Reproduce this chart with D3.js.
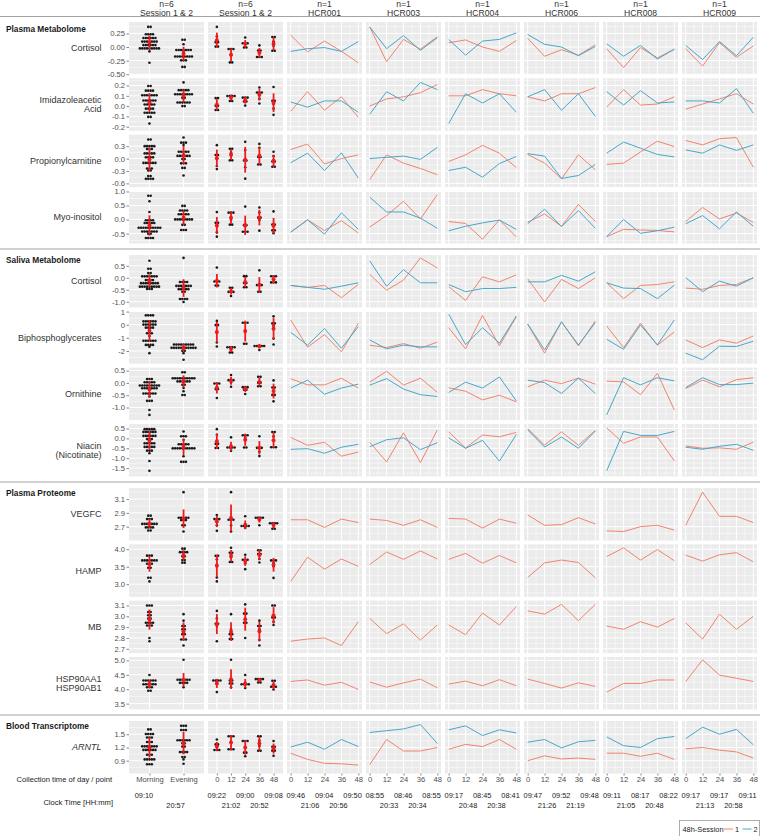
<!DOCTYPE html>
<html>
<head>
<meta charset="utf-8">
<script src="https://cdn.jsdelivr.net/npm/d3@7"></script>
<style>
body { margin: 0; background: #fff; }
svg { display: block; font-family: "Liberation Sans", Arial, sans-serif; }
</style>
</head>
<body>
<div id="chart"></div>
<script>
var width = 760;
var height = 836;

var panelLeft = 129;
var panelWidth = 75;
var panelStep = 79;
var panelHeight = 52.5;
var rowStep = 56.3;
var firstRowTop = 22;
var headerLineY = 16.5;

var dotRadius = 1.3;
var dotBin = 3.1;
var dotStep = 2.4;

var timePoints = [0, 12, 24, 36, 48];
var dayParts = ['Morning', 'Evening'];
var subjects = ['HCR001', 'HCR003', 'HCR004', 'HCR006', 'HCR008', 'HCR009'];
var sessions = ['1', '2'];
var sessionColors = ['#F2836F', '#45A8CB'];
var sections = ['Plasma Metabolome', 'Saliva Metabolome', 'Plasma Proteome', 'Blood Transcriptome'];

var rowLabels = [['Cortisol'], ['Imidazoleacetic', 'Acid'], ['Propionylcarnitine'], ['Myo-inositol'],
    ['Cortisol'], ['Biphosphoglycerates'], ['Ornithine'], ['Niacin', '(Nicotinate)'],
    ['VEGFC'], ['HAMP'], ['MB'], ['HSP90AA1', 'HSP90AB1'], ['ARNTL']];
var rowSection = [0, 0, 0, 0, 1, 1, 1, 1, 2, 2, 2, 2, 3];
var rowItalic = [false, false, false, false, false, false, false, false, false, false, false, false, true];
var rowTicks = [
    [-0.5, -0.25, 0, 0.25], [-0.2, -0.1, 0, 0.1, 0.2], [-0.6, -0.3, 0, 0.3], [-0.5, 0, 0.5, 1],
    [-1, -0.5, 0, 0.5], [-2, -1, 0, 1], [-1, -0.5, 0, 0.5], [-1.5, -1, -0.5, 0, 0.5],
    [2.7, 2.9, 3.1], [3, 3.5, 4], [2.7, 2.8, 2.9, 3, 3.1], [3.5, 4, 4.5, 5], [0.9, 1.2, 1.5]];
var rowDigits = [2, 1, 1, 1, 1, 0, 1, 1, 1, 1, 1, 1, 1];
var rowDomains = [
    [-0.505, 0.46], [-0.24, 0.27], [-0.69, 0.58], [-0.85, 1.02],
    [-1.24, 0.95], [-2.98, 1.02], [-1.51, 0.62], [-1.92, 0.73],
    [2.5, 3.26], [2.64, 4.14], [2.66, 3.145], [3.3, 5.12], [0.61, 1.8]];

// one row per subject, values at 0, 12, 24, 36, 48 h
var plasmaCortisolS1 = [[0.22, -0.09, 0.11, -0.08, -0.29], [0.37, -0.27, 0.14, -0.04, 0.19], [0.08, 0.13, 0.00, -0.08, 0.12],
    [0.16, -0.17, -0.05, -0.15, 0.04], [-0.03, -0.38, -0.01, -0.20, -0.04], [-0.03, -0.35, 0.08, -0.19, 0.02]];
var plasmaCortisolS2 = [[-0.08, -0.03, -0.01, -0.08, 0.10], [0.37, -0.03, 0.21, -0.06, 0.17], [0.14, -0.15, 0.11, 0.14, 0.26],
    [0.23, 0.05, 0.00, -0.16, 0.01], [0.06, -0.17, 0.03, -0.22, -0.04], [0.03, -0.23, 0.10, -0.16, 0.18]];
var imidazoleS1 = [[-0.05, 0.14, -0.04, 0.09, -0.11], [0.00, 0.07, 0.09, 0.13, 0.21], [0.10, 0.10, 0.16, 0.12, 0.10],
    [0.09, 0.05, 0.12, 0.12, 0.18], [-0.01, 0.16, 0.01, 0.02, 0.09], [-0.03, 0.02, 0.07, 0.12, 0.02]];
var imidazoleS2 = [[0.04, -0.01, 0.05, 0.05, -0.06], [-0.08, 0.14, 0.05, 0.23, 0.16], [-0.17, 0.12, 0.03, 0.12, -0.06],
    [0.09, 0.16, -0.04, 0.12, -0.10], [0.14, 0.01, 0.15, 0.03, 0.04], [0.05, 0.05, 0.03, 0.17, -0.07]];
var propionylS1 = [[0.22, 0.35, -0.13, 0.00, 0.09], [-0.51, 0.09, -0.11, -0.24, -0.39], [-0.07, 0.09, 0.32, 0.13, -0.22],
    [0.10, -0.11, -0.49, 0.09, -0.27], [-0.14, -0.11, 0.16, 0.42, 0.29], [0.44, 0.33, 0.48, 0.51, -0.21]];
var propionylS2 = [[-0.10, 0.13, -0.29, 0.14, -0.47], [0.00, 0.03, 0.06, -0.02, 0.27], [-0.29, -0.21, -0.45, -0.12, 0.05],
    [0.12, 0.06, -0.48, -0.41, -0.14], [0.13, 0.40, 0.25, 0.10, 0.04], [0.21, 0.13, 0.33, 0.20, 0.33]];
var myoInositolS1 = [[-0.45, -0.01, -0.39, -0.04, -0.48], [-0.27, 0.14, 0.65, 0.02, 0.89], [-0.07, -0.14, -0.70, -0.01, -0.62],
    [-0.10, 0.20, -0.24, 0.54, -0.07], [-0.61, -0.35, -0.37, -0.39, -0.44], [-0.07, 0.43, 0.02, 0.23, -0.10]];
var myoInositolS2 = [[-0.45, -0.01, -0.52, 0.24, -0.35], [0.80, 0.27, 0.27, 0.05, -0.31], [-0.40, -0.24, -0.12, -0.02, -0.35],
    [-0.15, 0.37, -0.25, 0.32, -0.31], [-0.61, 0.00, -0.49, -0.40, -0.27], [-0.15, 0.14, -0.33, 0.27, -0.24]];
var salivaCortisolS1 = [[-0.32, -0.40, -0.32, -0.83, -0.28], [0.14, -0.52, -0.10, 0.83, 0.41], [-0.37, -0.94, 0.04, -0.17, 0.12],
    [-0.04, -1.01, -0.07, -0.45, 0.00], [-0.21, -0.87, -0.32, -0.28, -0.17], [-0.43, -0.48, -0.32, -0.28, 0.00]];
var salivaCortisolS2 = [[-0.32, -0.40, -0.48, -0.35, -0.21], [0.71, -0.35, 0.34, -0.21, -0.21], [-0.28, -0.58, -0.45, -0.45, -0.40],
    [-0.17, -0.17, 0.10, -0.14, 0.25], [-0.21, -0.43, -0.45, -0.87, -0.31], [0.01, -0.58, -0.14, -0.35, 0.00]];
var biphosS1 = [[0.36, -1.71, -0.76, -2.07, 0.11], [-1.56, -1.74, -1.44, -1.79, -1.33], [-0.23, -1.84, 0.71, -1.61, 0.61],
    [0.05, -2.17, 0.23, -1.61, 0.28], [-0.10, -1.74, 0.11, -1.56, -0.55], [-1.16, -1.74, -1.16, -1.41, -0.86]];
var biphosS2 = [[-0.58, -1.56, -0.30, -1.79, -0.15], [-1.16, -1.84, -1.56, -1.69, -1.69], [0.81, -1.52, -0.23, -1.41, 0.66],
    [0.05, -1.92, 0.20, -1.54, 0.15], [-1.11, -1.87, -0.02, -1.54, 0.36], [-2.17, -2.67, -1.64, -1.66, -1.26]];
var ornithineS1 = [[0.17, -0.08, -0.08, 0.19, -0.21], [0.03, 0.47, -0.09, 0.19, -0.38], [-0.20, -0.34, -0.69, -0.50, -0.77],
    [-0.16, 0.11, -0.03, 0.19, -0.05], [0.07, 0.04, -0.48, 0.39, -1.10], [-0.23, 0.11, -0.16, 0.13, 0.21]];
var ornithineS2 = [[-0.21, 0.11, -0.46, -0.21, -0.05], [-0.09, 0.17, -0.25, -0.48, -0.55], [-0.39, 0.03, -0.21, 0.24, -0.73],
    [0.11, 0.01, -0.43, 0.19, -0.43], [-1.30, 0.21, -0.08, 0.21, 0.08], [-0.19, 0.21, -0.07, -0.07, -0.01]];
var niacinS1 = [[0.05, -0.35, -0.20, -0.90, -0.69], [-0.19, -1.19, 0.28, -1.22, 0.42], [0.33, -0.49, 0.17, 0.08, 0.30],
    [0.50, -0.34, 0.33, -0.35, 0.40], [0.53, -0.25, 0.07, 0.07, -1.14], [-0.38, -0.50, -0.48, -0.55, -0.19]];
var niacinS2 = [[-0.55, -0.52, -0.75, -0.45, -0.30], [-0.42, -0.07, 0.03, -0.57, -0.22], [0.03, -0.50, -0.10, -1.15, 0.20],
    [0.43, -0.44, 0.07, -0.50, 0.37], [-1.64, 0.35, 0.15, 0.15, 0.35], [-0.45, -0.55, -0.40, -0.30, -0.60]];
var vegfcS1 = [[2.80, 2.80, 2.69, 2.81, 2.76], [2.81, 2.79, 2.72, 2.80, 2.69], [2.82, 2.81, 2.68, 2.81, 2.75],
    [2.87, 2.72, 2.73, 2.83, 2.74], [2.64, 2.63, 2.70, 2.72, 2.65], [2.72, 3.20, 2.85, 2.85, 2.76]];
var hampS1 = [[3.08, 3.77, 3.43, 3.72, 3.51], [3.56, 3.92, 3.71, 3.95, 3.72], [3.71, 3.88, 3.60, 3.82, 3.61],
    [3.19, 3.61, 3.69, 3.62, 3.18], [3.79, 4.04, 3.69, 3.99, 3.67], [3.83, 3.66, 3.84, 3.90, 3.64]];
var mbS1 = [[2.77, 2.79, 2.80, 2.73, 2.95], [2.98, 2.84, 2.93, 2.78, 2.92], [2.92, 2.83, 3.03, 2.92, 3.09],
    [3.05, 3.02, 3.11, 2.96, 3.11], [2.91, 2.88, 2.95, 2.90, 2.98], [2.94, 2.79, 3.02, 2.88, 3.00]];
var hsp90S1 = [[4.27, 4.32, 4.14, 4.24, 3.99], [4.25, 4.07, 4.22, 4.35, 4.05], [4.18, 4.28, 4.12, 4.33, 4.12],
    [4.35, 4.20, 4.04, 4.22, 4.10], [3.90, 4.20, 4.20, 4.32, 4.32], [4.26, 5.02, 4.49, 4.38, 4.27]];
var arntlS1 = [[1.07, 0.93, 0.84, 0.83, 0.80], [0.81, 1.38, 1.12, 1.12, 1.20], [1.16, 1.27, 1.22, 1.38, 1.16],
    [0.90, 1.01, 0.94, 0.96, 0.93], [1.07, 1.07, 1.00, 1.07, 0.93], [1.17, 1.20, 1.14, 1.10, 0.96]];
var arntlS2 = [[1.21, 1.32, 1.16, 1.38, 1.22], [1.54, 1.58, 1.62, 1.72, 1.29], [1.60, 1.69, 1.47, 1.60, 1.53],
    [1.32, 1.38, 1.19, 1.33, 1.36], [1.44, 1.24, 1.20, 1.40, 1.45], [1.40, 1.66, 1.50, 1.61, 1.26]];

var session1Data = [plasmaCortisolS1, imidazoleS1, propionylS1, myoInositolS1, salivaCortisolS1, biphosS1,
    ornithineS1, niacinS1, vegfcS1, hampS1, mbS1, hsp90S1, arntlS1];
var session2Data = [plasmaCortisolS2, imidazoleS2, propionylS2, myoInositolS2, salivaCortisolS2, biphosS2,
    ornithineS2, niacinS2, null, null, null, null, arntlS2];

var headerTop = ['n=6', 'n=6', 'n=1', 'n=1', 'n=1', 'n=1', 'n=1', 'n=1'];
var headerBottom = ['Session 1 & 2', 'Session 1 & 2'].concat(subjects);

var clockDayParts = ['09:10', '20:57'];
var clockTimes = [
    ['09:22', '21:02', '09:00', '20:52', '09:08'],
    ['09:46', '21:06', '09:04', '20:56', '09:50'],
    ['08:55', '20:33', '08:46', '20:34', '08:55'],
    ['09:17', '20:48', '08:45', '20:38', '08:41'],
    ['09:47', '21:26', '09:52', '21:19', '09:48'],
    ['09:11', '21:05', '08:17', '20:48', '08:22'],
    ['09:17', '21:13', '09:17', '20:58', '09:11']];


var locale = d3.formatLocale({decimal: '.', thousands: ',', grouping: [3], currency: ['', ''], minus: '-'});

var xDay = d3.scalePoint().domain(dayParts).range([0, panelWidth]).padding(0.6);
var xSummary = d3.scaleLinear().domain([-7.5, 56]).range([0, panelWidth]);
var xSubject = d3.scaleLinear().domain([-2.6, 50.6]).range([0, panelWidth]);

function colX(i) {
    return panelLeft + i * panelStep;
}

// Layout of rows and section separators
var rowTops = [];
var separators = [];
(function () {
    var y = firstRowTop;
    rowSection.forEach(function (s, i) {
        if (i > 0 && s !== rowSection[i - 1]) {
            var sep = rowTops[i - 1] + panelHeight + 5.6;
            separators.push(sep);
            y = sep + 6;
        }
        rowTops.push(y);
        y += rowStep;
    });
}());

var svg = d3.select('#chart').append('svg')
    .attr('width', width)
    .attr('height', height);

svg.append('rect').attr('width', width).attr('height', height).attr('fill', '#fff');

function minorBreaks(ticks, domain) {
    var step = ticks[1] - ticks[0];
    var out = [];
    for (var v = ticks[0] - step / 2; v <= domain[1]; v += step) {
        if (v >= domain[0]) {
            out.push(v);
        }
    }
    return out;
}

function drawPanelBackground(g, yScale, ticks, domain, xMajor, xMinor) {
    g.append('rect')
        .attr('width', panelWidth)
        .attr('height', panelHeight)
        .attr('fill', '#EBEBEB');

    g.selectAll('.hminor').data(minorBreaks(ticks, domain)).enter().append('line')
        .attr('x1', 0).attr('x2', panelWidth)
        .attr('y1', yScale).attr('y2', yScale)
        .attr('stroke', '#fff').attr('stroke-width', 0.5);
    g.selectAll('.vminor').data(xMinor).enter().append('line')
        .attr('x1', function (d) { return d; }).attr('x2', function (d) { return d; })
        .attr('y1', 0).attr('y2', panelHeight)
        .attr('stroke', '#fff').attr('stroke-width', 0.5);
    g.selectAll('.hmajor').data(ticks).enter().append('line')
        .attr('x1', 0).attr('x2', panelWidth)
        .attr('y1', yScale).attr('y2', yScale)
        .attr('stroke', '#fff').attr('stroke-width', 1);
    g.selectAll('.vmajor').data(xMajor).enter().append('line')
        .attr('x1', function (d) { return d; }).attr('x2', function (d) { return d; })
        .attr('y1', 0).attr('y2', panelHeight)
        .attr('stroke', '#fff').attr('stroke-width', 1);
}

function addDotplot(g, values, cx, yScale) {
    var ys = values.map(yScale).sort(function (a, b) { return a - b; });
    var bins = [];
    ys.forEach(function (y) {
        var last = bins[bins.length - 1];
        if (last && y - last.start <= dotBin) {
            last.items.push(y);
        } else {
            bins.push({start: y, items: [y]});
        }
    });

    bins.forEach(function (bin) {
        var n = bin.items.length;
        var cy = (bin.items[0] + bin.items[n - 1]) / 2;
        for (var j = 0; j < n; j++) {
            g.append('circle')
                .attr('cx', cx + (j - (n - 1) / 2) * dotStep)
                .attr('cy', cy)
                .attr('r', dotRadius)
                .attr('fill', '#1a1a1a');
        }
    });

    var mean = d3.mean(values);
    var sd = d3.deviation(values) || 0;
    g.append('line')
        .attr('x1', cx).attr('x2', cx)
        .attr('y1', yScale(mean - sd)).attr('y2', yScale(mean + sd))
        .attr('stroke', '#F21A1A').attr('stroke-width', 1.8);
    g.append('circle')
        .attr('cx', cx).attr('cy', yScale(mean))
        .attr('r', 2)
        .attr('fill', '#F21A1A');
}

function sessionValues(rowIndex) {
    var list = [session1Data[rowIndex]];
    if (session2Data[rowIndex]) {
        list.push(session2Data[rowIndex]);
    }
    return list;
}

function drawRow(rowIndex) {
    var top = rowTops[rowIndex];
    var ticks = rowTicks[rowIndex];
    var domain = rowDomains[rowIndex];
    var y = d3.scaleLinear().domain(domain).range([panelHeight, 0]);
    var perSession = sessionValues(rowIndex);

    // Morning / Evening
    var g0 = svg.append('g').attr('transform', 'translate(' + colX(0) + ',' + top + ')');
    drawPanelBackground(g0, y, ticks, domain, dayParts.map(xDay), []);
    dayParts.forEach(function (part, p) {
        var values = [];
        perSession.forEach(function (sess) {
            sess.forEach(function (subj) {
                subj.forEach(function (v, t) {
                    if (t % 2 === p) {
                        values.push(v);
                    }
                });
            });
        });
        addDotplot(g0, values, xDay(part), y);
    });

    var axis = d3.axisLeft(y).tickValues(ticks).tickSize(2.5).tickPadding(1.5)
        .tickFormat(locale.format('.' + rowDigits[rowIndex] + 'f'));
    var axisG = g0.append('g').call(axis);
    axisG.select('.domain').remove();
    axisG.selectAll('line').attr('stroke', '#333').attr('stroke-width', 0.6);
    axisG.selectAll('text').attr('fill', '#4D4D4D').attr('font-size', '7.6px')
        .attr('font-family', '"Liberation Sans", Arial, sans-serif');

    // Per time point, subject average over sessions
    var g1 = svg.append('g').attr('transform', 'translate(' + colX(1) + ',' + top + ')');
    drawPanelBackground(g1, y, ticks, domain, timePoints.map(xSummary), []);
    timePoints.forEach(function (tp, t) {
        var values = subjects.map(function (s, i) {
            return d3.mean(perSession, function (sess) { return sess[i][t]; });
        });
        addDotplot(g1, values, xSummary(tp), y);
    });

    // Subjects
    var minorTimes = [6, 18, 30, 42];
    subjects.forEach(function (s, i) {
        var g = svg.append('g').attr('transform', 'translate(' + colX(i + 2) + ',' + top + ')');
        drawPanelBackground(g, y, ticks, domain, timePoints.map(xSubject), minorTimes.map(xSubject));
        var line = d3.line()
            .x(function (d, t) { return xSubject(timePoints[t]); })
            .y(function (d) { return y(d); });
        perSession.forEach(function (sess, k) {
            g.append('path')
                .attr('d', line(sess[i]))
                .attr('fill', 'none')
                .attr('stroke', sessionColors[k])
                .attr('stroke-width', 1);
        });
    });

    // Row label
    var labelLines = rowLabels[rowIndex];
    var label = svg.append('text')
        .attr('x', 101.5)
        .attr('y', top + panelHeight / 2 - (labelLines.length - 1) * 4.7)
        .attr('text-anchor', 'end')
        .attr('font-size', '9px')
        .attr('fill', '#333')
        .attr('font-style', rowItalic[rowIndex] ? 'italic' : 'normal');
    labelLines.forEach(function (txt, j) {
        label.append('tspan')
            .attr('x', 101.5)
            .attr('dy', j === 0 ? '0.35em' : '9.4px')
            .text(txt);
    });
}

d3.range(rowLabels.length).forEach(drawRow);

// Column headers
headerTop.forEach(function (t, i) {
    var cx = colX(i) + panelWidth / 2;
    svg.append('text').attr('x', cx).attr('y', 4).attr('dy', '0.35em')
        .attr('text-anchor', 'middle').attr('font-size', '8.6px').attr('fill', '#333').text(t);
    svg.append('text').attr('x', cx).attr('y', 12.6).attr('dy', '0.35em')
        .attr('text-anchor', 'middle').attr('font-size', '8.6px').attr('fill', '#333').text(headerBottom[i]);
});

// Section lines and titles
[headerLineY].concat(separators).forEach(function (sy, i) {
    svg.append('line')
        .attr('x1', 0).attr('x2', width)
        .attr('y1', sy).attr('y2', sy)
        .attr('stroke', '#A3A3A3').attr('stroke-width', 1);
    svg.append('text')
        .attr('x', 6)
        .attr('y', sy + (i === 0 ? 12.8 : 11))
        .attr('dy', '0.35em')
        .attr('font-size', '8.3px')
        .attr('font-weight', 'bold')
        .attr('fill', '#1a1a1a')
        .text(sections[i]);
});

// Bottom axes
var lastTop = rowTops[rowTops.length - 1] + panelHeight;

function styleBottomAxis(g) {
    g.select('.domain').remove();
    g.selectAll('line').attr('stroke', '#333').attr('stroke-width', 0.6);
    g.selectAll('text').attr('fill', '#4D4D4D').attr('font-size', '7.6px')
        .attr('font-family', '"Liberation Sans", Arial, sans-serif');
}

svg.append('g').attr('transform', 'translate(' + colX(0) + ',' + lastTop + ')')
    .call(d3.axisBottom(xDay).tickSize(2).tickPadding(1.2))
    .call(styleBottomAxis);
svg.append('g').attr('transform', 'translate(' + colX(1) + ',' + lastTop + ')')
    .call(d3.axisBottom(xSummary).tickValues(timePoints).tickSize(2).tickPadding(1.2))
    .call(styleBottomAxis);
subjects.forEach(function (s, i) {
    svg.append('g').attr('transform', 'translate(' + colX(i + 2) + ',' + lastTop + ')')
        .call(d3.axisBottom(xSubject).tickValues(timePoints).tickSize(2).tickPadding(1.2))
        .call(styleBottomAxis);
});

svg.append('text').attr('x', 112).attr('y', lastTop + 5.5).attr('dy', '0.35em')
    .attr('text-anchor', 'end').attr('font-size', '7.6px').attr('fill', '#1a1a1a')
    .text('Collection time of day / point');
svg.append('text').attr('x', 113).attr('y', lastTop + 29).attr('dy', '0.35em')
    .attr('text-anchor', 'end').attr('font-size', '7.6px').attr('fill', '#1a1a1a')
    .text('Clock Time [HH:mm]');

// Clock times, laid out on the summary column's spacing under every column
var clockY = [lastTop + 22, lastTop + 32];
dayParts.forEach(function (part, p) {
    svg.append('text')
        .attr('x', colX(0) + xDay(part) - 5.5 - 2.5 * p)
        .attr('y', clockY[p]).attr('dy', '0.35em')
        .attr('text-anchor', 'middle').attr('font-size', '7.4px').attr('fill', '#1a1a1a')
        .text(clockDayParts[p]);
});
clockTimes.forEach(function (times, c) {
    times.forEach(function (t, k) {
        svg.append('text')
            .attr('x', colX(c + 1) + xSummary(timePoints[k]))
            .attr('y', clockY[k % 2]).attr('dy', '0.35em')
            .attr('text-anchor', 'middle').attr('font-size', '7.4px').attr('fill', '#1a1a1a')
            .text(t);
    });
});

// Legend
var legend = svg.append('g').attr('transform', 'translate(679.5,820.5)');
legend.append('rect')
    .attr('width', 80).attr('height', 17)
    .attr('fill', '#fff').attr('stroke', '#9A9A9A').attr('stroke-width', 0.8);
legend.append('text').attr('x', 3).attr('y', 8.5).attr('dy', '0.35em')
    .attr('font-size', '7.4px').attr('fill', '#1a1a1a').text('48h-Session');
sessions.forEach(function (s, k) {
    var lx = 44.5 + k * 18.5;
    legend.append('line')
        .attr('x1', lx).attr('x2', lx + 9)
        .attr('y1', 8.5).attr('y2', 8.5)
        .attr('stroke', sessionColors[k]).attr('stroke-width', 1);
    legend.append('text').attr('x', lx + 11).attr('y', 8.5).attr('dy', '0.35em')
        .attr('font-size', '7.4px').attr('fill', '#1a1a1a').text(s);
});
</script>
</body>
</html>
